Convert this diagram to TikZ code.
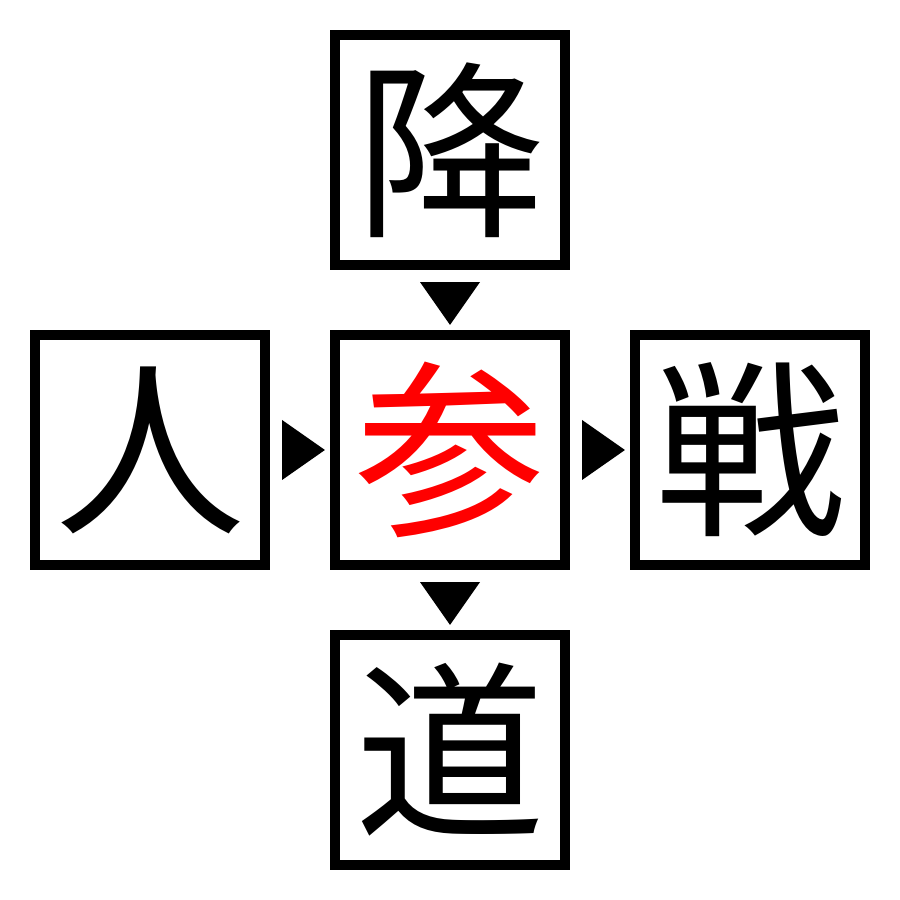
\documentclass[tikz,border=0pt]{standalone}
\usepackage{fontspec}
\newfontfamily\jpfont{Noto Sans CJK JP}
\usetikzlibrary{positioning,calc}

\begin{document}
\begin{tikzpicture}[x=0.01cm, y=0.01cm,
    kanji/.style={draw, line width=0.1cm, minimum size=2.3cm, inner sep=0pt, font=\jpfont\fontsize{54pt}{54pt}\selectfont},
    tri/.style={fill=black}]

      % 背景 (余白)
      \useasboundingbox (0,0) rectangle (900,900);

      % 中央と周りの字
      \node[kanji, text=red] (mid) at (450,450) {参};
      \node[kanji] (top) at (450,750) {降};
      \node[kanji] (left) at (150,450) {人};
      \node[kanji] (right) at (750,450) {戦};
      \node[kanji] (bottom) at (450,150) {道};

      % 三角の矢印
      \fill[tri] ($(left.east)+(12,30)$) -- ($(left.east)+(12,-30)$) -- ($(mid.west)+(-5,0)$) -- cycle;
      \fill[tri] ($(mid.east)+(12,30)$) -- ($(mid.east)+(12,-30)$) -- ($(right.west)+(-5,0)$) -- cycle;
      \fill[tri] ($(top.south)+(-30,-12)$) -- ($(top.south)+(30,-12)$) -- ($(mid.north)+(0,5)$) -- cycle;
      \fill[tri] ($(mid.south)+(-30,-12)$) -- ($(mid.south)+(30,-12)$) -- ($(bottom.north)+(0,5)$) -- cycle;

    \end{tikzpicture}
\end{document}
